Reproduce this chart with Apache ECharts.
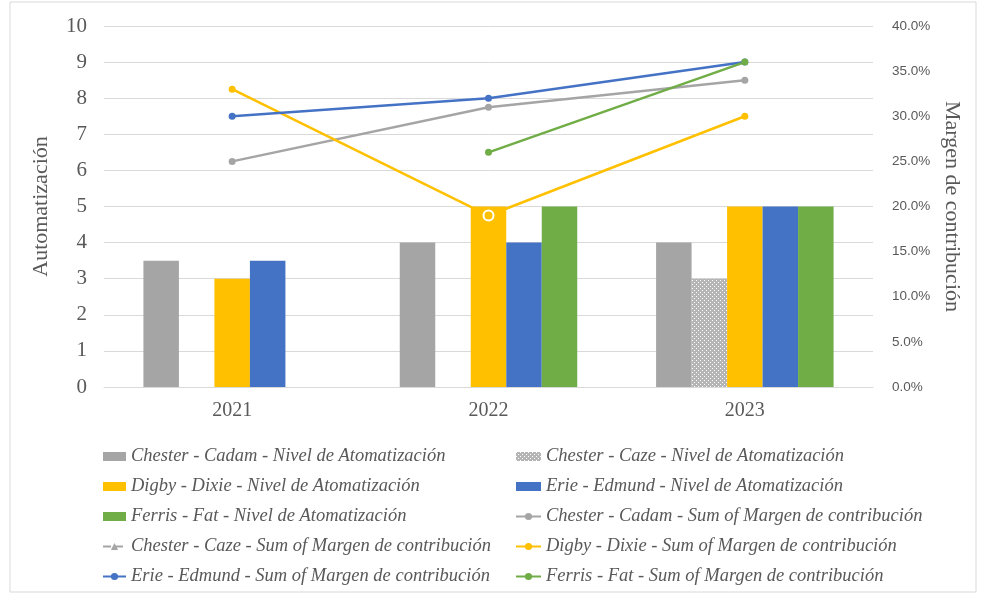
<!DOCTYPE html>
<html>
<head>
<meta charset="utf-8">
<script src="https://cdn.jsdelivr.net/npm/echarts@6/dist/echarts.min.js"></script>
<style>
  html, body { margin: 0; padding: 0; background: #fff; }
  #main { width: 982px; height: 595px; }
</style>
</head>
<body>
<div id="main"></div>
<script>
// datos
var years = ['2021', '2022', '2023'];
var leftTicks = [0, 10, 1];

var cadamNivel = [3.5, 4, 4];
var cazeNivel = [null, null, 3];
var dixieNivel = [3, 5, 5];
var edmundNivel = [3.5, 4, 5];
var fatNivel = [null, 5, 5];

var cadamMargen = [0.25, 0.31, 0.34];
var cazeMargen = [null, null, null];
var dixieMargen = [0.33, 0.19, 0.30];
var edmundMargen = [0.30, 0.32, 0.36];
var fatMargen = [null, 0.26, 0.36];

var gris = '#a5a5a5', amarillo = '#ffc000', azul = '#4472c4', verde = '#70ad47';

// patron punteado para Chester - Caze
var pat = document.createElement('canvas');
pat.width = 4; pat.height = 4;
var pc = pat.getContext('2d');
pc.fillStyle = '#b5b5b5';
pc.fillRect(0, 0, 4, 4);
pc.fillStyle = '#ffffff';
pc.fillRect(0, 0, 1, 1);
pc.fillRect(2, 2, 1, 1);

var chart = echarts.init(document.getElementById('main'));

var serif = '"Liberation Serif", "DejaVu Serif", serif';

function barra(nombre, datos, color) {
  return {
    name: nombre, type: 'bar', yAxisIndex: 0, data: datos,
    barWidth: 35.5, barGap: '0%',
    itemStyle: { color: color }
  };
}
function linea(nombre, datos, color, punteada) {
  return {
    name: nombre, type: 'line', yAxisIndex: 1, data: datos,
    symbol: punteada ? 'triangle' : 'circle', symbolSize: 7,
    lineStyle: { color: color, width: 2.5, type: punteada ? 'dashed' : 'solid' },
    itemStyle: { color: color }
  };
}

var dixieLinea = linea('Digby - Dixie - Sum of Margen de contribución', dixieMargen.map(function (v, i) {
  if (i === 1) return { value: v, itemStyle: { color: amarillo, borderColor: '#ffffff', borderWidth: 2 }, symbolSize: 10 };
  return v;
}), amarillo);

var leyendaTexto = { color: '#595959', fontFamily: serif, fontStyle: 'italic', fontSize: 18.5 };

var option = {
  backgroundColor: '#ffffff',
  animation: false,
  graphic: [{
    type: 'rect', shape: { x: 10, y: 2, width: 966, height: 590 },
    style: { fill: 'none', stroke: '#d9d9d9', lineWidth: 1 }, silent: true
  }],
  grid: { left: 104, right: 109, top: 26, bottom: 208 },
  xAxis: {
    type: 'category', data: years,
    axisLine: { lineStyle: { color: '#d9d9d9', width: 1 } },
    axisTick: { show: false },
    axisLabel: { color: '#595959', fontFamily: serif, fontSize: 20, margin: 14 }
  },
  yAxis: [{
    type: 'value', min: leftTicks[0], max: leftTicks[1], interval: leftTicks[2],
    name: 'Automatización', nameLocation: 'middle', nameGap: 52, nameRotate: 90,
    nameTextStyle: { color: '#595959', fontFamily: serif, fontSize: 22 },
    axisLine: { show: false }, axisTick: { show: false },
    axisLabel: { color: '#595959', fontFamily: serif, fontSize: 21, margin: 17 },
    splitLine: { lineStyle: { color: '#d9d9d9' } }
  }, {
    type: 'value', min: 0, max: 0.4, interval: 0.05,
    name: 'Margen de contribución', nameLocation: 'middle', nameGap: 64, nameRotate: -90,
    nameTextStyle: { color: '#595959', fontFamily: serif, fontSize: 22 },
    axisLine: { show: false }, axisTick: { show: false },
    axisLabel: {
      color: '#595959', fontFamily: '"Liberation Sans", sans-serif', fontSize: 13.5, margin: 19,
      formatter: function (v) { return (v * 100).toFixed(1) + '%'; }
    },
    splitLine: { show: false }
  }],
  legend: [{
    orient: 'vertical', left: 97, top: 442, itemGap: 11,
    itemWidth: 23, itemHeight: 9,
    textStyle: leyendaTexto,
    data: [
      { name: 'Chester - Cadam - Nivel de Atomatización', icon: 'rect' },
      { name: 'Digby - Dixie - Nivel de Atomatización', icon: 'rect' },
      { name: 'Ferris - Fat - Nivel de Atomatización', icon: 'rect' },
      'Chester - Caze - Sum of Margen de contribución',
      'Erie - Edmund - Sum of Margen de contribución'
    ]
  }, {
    orient: 'vertical', left: 510, top: 442, itemGap: 11,
    itemWidth: 25, itemHeight: 9,
    textStyle: leyendaTexto,
    data: [
      { name: 'Chester - Caze - Nivel de Atomatización', icon: 'rect' },
      { name: 'Erie - Edmund - Nivel de Atomatización', icon: 'rect' },
      'Chester - Cadam - Sum of Margen de contribución',
      'Digby - Dixie - Sum of Margen de contribución',
      'Ferris - Fat - Sum of Margen de contribución'
    ]
  }],
  series: [
    barra('Chester - Cadam - Nivel de Atomatización', cadamNivel, gris),
    barra('Chester - Caze - Nivel de Atomatización', cazeNivel, { image: pat, repeat: 'repeat' }),
    barra('Digby - Dixie - Nivel de Atomatización', dixieNivel, amarillo),
    barra('Erie - Edmund - Nivel de Atomatización', edmundNivel, azul),
    barra('Ferris - Fat - Nivel de Atomatización', fatNivel, verde),
    linea('Chester - Cadam - Sum of Margen de contribución', cadamMargen, gris),
    linea('Chester - Caze - Sum of Margen de contribución', cazeMargen, gris, true),
    dixieLinea,
    linea('Erie - Edmund - Sum of Margen de contribución', edmundMargen, azul),
    linea('Ferris - Fat - Sum of Margen de contribución', fatMargen, verde)
  ]
};

chart.setOption(option);
</script>
</body>
</html>
